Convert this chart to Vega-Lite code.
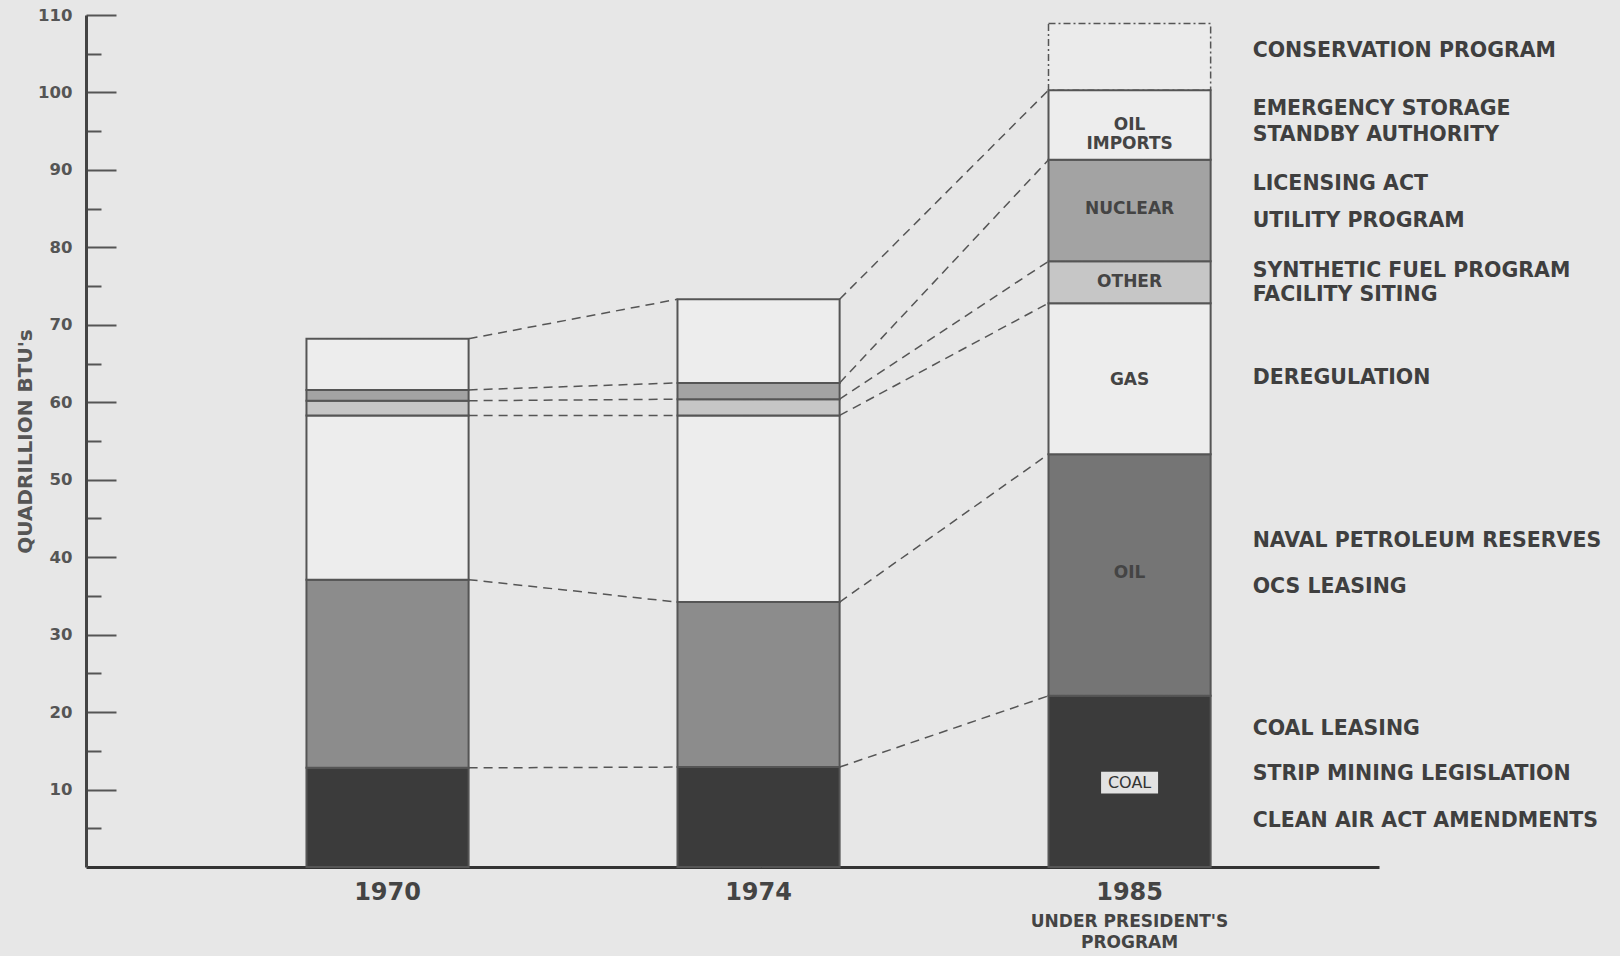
{
  "$schema": "https://vega.github.io/schema/vega-lite/v6.json",
  "width": 1293,
  "height": 852,
  "autosize": {"type": "none"},
  "padding": {"left": 86, "top": 15, "right": 241, "bottom": 89},
  "background": "#e7e7e7",
  "config": {"view": {"stroke": null}, "font": "DejaVu Sans"},
  "datasets": {
    "bars": [
      {"year": "1985", "source": "Conservation", "value": 8.6, "order": 7},
      {"year": "1970", "source": "Coal", "value": 12.8, "order": 1},
      {"year": "1970", "source": "Oil", "value": 24.3, "order": 2},
      {"year": "1970", "source": "Gas", "value": 21.2, "order": 3},
      {"year": "1970", "source": "Other", "value": 1.9, "order": 4},
      {"year": "1970", "source": "Nuclear", "value": 1.4, "order": 5},
      {"year": "1970", "source": "Oil Imports", "value": 6.6, "order": 6},
      {"year": "1974", "source": "Coal", "value": 12.9, "order": 1},
      {"year": "1974", "source": "Oil", "value": 21.3, "order": 2},
      {"year": "1974", "source": "Gas", "value": 24.1, "order": 3},
      {"year": "1974", "source": "Other", "value": 2.1, "order": 4},
      {"year": "1974", "source": "Nuclear", "value": 2.1, "order": 5},
      {"year": "1974", "source": "Oil Imports", "value": 10.8, "order": 6},
      {"year": "1985", "source": "Coal", "value": 22.1, "order": 1},
      {"year": "1985", "source": "Oil", "value": 31.2, "order": 2},
      {"year": "1985", "source": "Gas", "value": 19.5, "order": 3},
      {"year": "1985", "source": "Other", "value": 5.4, "order": 4},
      {"year": "1985", "source": "Nuclear", "value": 13.1, "order": 5},
      {"year": "1985", "source": "Oil Imports", "value": 9.0, "order": 6}
    ],
    "connectors": [
      {"from": "1970", "to": "1974", "y1": 68.2, "y2": 73.3},
      {"from": "1970", "to": "1974", "y1": 61.6, "y2": 62.5},
      {"from": "1970", "to": "1974", "y1": 60.2, "y2": 60.4},
      {"from": "1970", "to": "1974", "y1": 58.3, "y2": 58.3},
      {"from": "1970", "to": "1974", "y1": 37.1, "y2": 34.2},
      {"from": "1970", "to": "1974", "y1": 12.8, "y2": 12.9},
      {"from": "1974", "to": "1985", "y1": 73.3, "y2": 100.3},
      {"from": "1974", "to": "1985", "y1": 62.5, "y2": 91.3},
      {"from": "1974", "to": "1985", "y1": 60.4, "y2": 78.2},
      {"from": "1974", "to": "1985", "y1": 58.3, "y2": 72.8},
      {"from": "1974", "to": "1985", "y1": 34.2, "y2": 53.3},
      {"from": "1974", "to": "1985", "y1": 12.9, "y2": 22.1}
    ],
    "segLabels": [
      {"year": "1985", "label": "OIL\nIMPORTS", "y": 95.8},
      {"year": "1985", "label": "NUCLEAR", "y": 85.0},
      {"year": "1985", "label": "OTHER", "y": 75.5},
      {"year": "1985", "label": "GAS", "y": 62.9},
      {"year": "1985", "label": "OIL", "y": 37.9}
    ],
    "coalLabel": [
      {"year": "1985", "label": "COAL", "y": 10.9}
    ],
    "notes": [
      {"year": "1985", "text": "CONSERVATION  PROGRAM", "y": 105.3},
      {"year": "1985", "text": "EMERGENCY  STORAGE", "y": 97.8},
      {"year": "1985", "text": "STANDBY  AUTHORITY", "y": 94.5},
      {"year": "1985", "text": "LICENSING  ACT", "y": 88.2},
      {"year": "1985", "text": "UTILITY  PROGRAM", "y": 83.4},
      {"year": "1985", "text": "SYNTHETIC  FUEL  PROGRAM", "y": 76.9},
      {"year": "1985", "text": "FACILITY  SITING", "y": 73.8},
      {"year": "1985", "text": "DEREGULATION", "y": 63.1},
      {"year": "1985", "text": "NAVAL  PETROLEUM  RESERVES", "y": 42.1},
      {"year": "1985", "text": "OCS  LEASING", "y": 36.1},
      {"year": "1985", "text": "COAL  LEASING", "y": 17.8},
      {"year": "1985", "text": "STRIP  MINING  LEGISLATION", "y": 12.0},
      {"year": "1985", "text": "CLEAN  AIR  ACT  AMENDMENTS", "y": 5.9}
    ],
    "sub": [
      {"year": "1985", "label": "UNDER PRESIDENT'S\nPROGRAM"}
    ]
  },
  "layer": [
    {
      "data": {"name": "bars"},
      "mark": {"type": "bar", "stroke": "#555555"},
      "encoding": {
        "x": {
          "field": "year",
          "type": "nominal",
          "scale": {"domain": ["1970", "1974", "1985"], "paddingInner": 0.563, "paddingOuter": 0.524, "align": 0.567},
          "axis": {
            "title": null,
            "labelAngle": 0,
            "labelFont": "DejaVu Sans",
            "labelFontSize": 24,
            "labelFontWeight": "bold",
            "labelColor": "#444444",
            "labelPadding": 13,
            "ticks": false,
            "domainWidth": 3,
            "domainColor": "#333333"
          }
        },
        "y": {
          "field": "value",
          "type": "quantitative",
          "stack": "zero",
          "scale": {"domain": [0, 110], "nice": false},
          "axis": {
            "title": "QUADRILLION BTU's",
            "titleFont": "DejaVu Sans",
            "titleFontSize": 20,
            "titleFontWeight": "bold",
            "titleColor": "#555555",
            "titlePadding": 2,
            "values": [5, 10, 15, 20, 25, 30, 35, 40, 45, 50, 55, 60, 65, 70, 75, 80, 85, 90, 95, 100, 105, 110],
            "labelExpr": "datum.value % 10 === 0 ? datum.label : ''",
            "labelFont": "DejaVu Sans",
            "labelFontSize": 16.5,
            "labelFontWeight": "bold",
            "labelColor": "#555555",
            "labelPadding": 44,
            "tickSize": {"condition": {"test": "datum.value % 10 === 0", "value": -30}, "value": -15},
            "tickWidth": 2,
            "tickColor": "#555555",
            "domainWidth": 3,
            "domainColor": "#444444",
            "grid": false
          }
        },
        "order": {"field": "order", "type": "quantitative"},
        "color": {
          "condition": {"test": "datum.year === '1985' && datum.source === 'Oil'", "value": "#757575"},
          "field": "source",
          "type": "nominal",
          "legend": null,
          "scale": {
            "domain": ["Coal", "Oil", "Gas", "Other", "Nuclear", "Oil Imports", "Conservation"],
            "range": ["#3b3b3b", "#8c8c8c", "#ededed", "#c6c6c6", "#a3a3a3", "#ededed", "#ebebeb"]
          }
        },
        "strokeDash": {"condition": {"test": "datum.source === 'Conservation'", "value": [7, 3, 2, 3]}, "value": [1, 0]},
        "strokeWidth": {"condition": {"test": "datum.source === 'Conservation'", "value": 1.5}, "value": 2}
      }
    },
    {
      "data": {"name": "connectors"},
      "mark": {"type": "rule", "stroke": "#555555", "strokeWidth": 1.5, "strokeDash": [9, 6]},
      "encoding": {
        "x": {"field": "from", "type": "nominal", "bandPosition": 1},
        "x2": {"field": "to", "bandPosition": 0},
        "y": {"field": "y1", "type": "quantitative"},
        "y2": {"field": "y2"}
      }
    },
    {
      "data": {"name": "segLabels"},
      "mark": {"type": "text", "font": "DejaVu Sans", "fontSize": 17, "fontWeight": "bold", "color": "#444444", "align": "center", "baseline": "middle", "lineBreak": "\n", "lineHeight": 19},
      "encoding": {
        "x": {"field": "year", "type": "nominal"},
        "y": {"field": "y", "type": "quantitative"},
        "text": {"field": "label"}
      }
    },
    {
      "data": {"name": "coalLabel"},
      "mark": {"type": "point", "shape": "M-1,-0.38L1,-0.38L1,0.38L-1,0.38Z", "size": 3249, "filled": true, "color": "#e2e2e2", "opacity": 1},
      "encoding": {
        "x": {"field": "year", "type": "nominal"},
        "y": {"field": "y", "type": "quantitative"}
      }
    },
    {
      "data": {"name": "coalLabel"},
      "mark": {"type": "text", "font": "DejaVu Sans", "fontSize": 16, "color": "#333333", "align": "center", "baseline": "middle"},
      "encoding": {
        "x": {"field": "year", "type": "nominal"},
        "y": {"field": "y", "type": "quantitative"},
        "text": {"field": "label"}
      }
    },
    {
      "data": {"name": "notes"},
      "mark": {"type": "text", "font": "DejaVu Sans", "fontSize": 20.5, "fontWeight": "bold", "color": "#3f3f3f", "align": "left", "baseline": "middle", "dx": 42},
      "encoding": {
        "x": {"field": "year", "type": "nominal", "bandPosition": 1},
        "y": {"field": "y", "type": "quantitative"},
        "text": {"field": "text"}
      }
    },
    {
      "data": {"name": "sub"},
      "mark": {"type": "text", "font": "DejaVu Sans", "fontSize": 17, "fontWeight": "bold", "color": "#444444", "align": "center", "baseline": "top", "dy": 47, "lineBreak": "\n", "lineHeight": 21},
      "encoding": {
        "x": {"field": "year", "type": "nominal"},
        "y": {"datum": 0, "type": "quantitative"},
        "text": {"field": "label"}
      }
    }
  ]
}
